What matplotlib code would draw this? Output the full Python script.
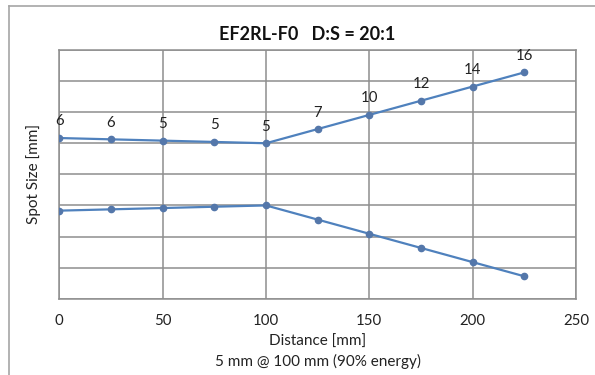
"""
Spot size vs distance for the EF2RL-F0 optics (D:S = 20:1).
"""

import matplotlib
matplotlib.use("Agg")
import matplotlib.pyplot as plt
from matplotlib.lines import Line2D

distance_mm = [0, 25, 50, 75, 100, 125, 150, 175, 200, 225]
spot_mm = [5.84, 5.63, 5.42, 5.21, 5.0, 7.28, 9.56, 11.84, 14.12, 16.4]
x_ticks = [0, 50, 100, 150, 200, 250]
y_ticks = [-10, -7.5, -5, -2.5, 0, 2.5, 5, 7.5, 10]

LINE_COLOR = "#4F81BD"
MARKER_COLOR = "#5477AA"
GRID_COLOR = "#8E8E8E"
TEXT_COLOR = "#222222"

plt.rcParams["font.family"] = ["Lato", "DejaVu Sans"]

fig = plt.figure(figsize=(5.95, 3.75), dpi=100)
ax = fig.add_axes([0.0997, 0.2035, 0.8684, 0.6632])

upper = [d / 2 for d in spot_mm]
lower = [-d / 2 for d in spot_mm]
for ys in (upper, lower):
    ax.plot(distance_mm, ys, color=LINE_COLOR, lw=1.6, marker="o", ms=4.5,
            mfc=MARKER_COLOR, mec=MARKER_COLOR, zorder=3)

# data labels above the upper curve
for x, y, d in zip(distance_mm, upper, spot_mm):
    ax.annotate(f"{d:.0f}", (x, y), xytext=(0, 11.9), textcoords="offset points",
                ha="center", va="center", fontsize=10.8, color=TEXT_COLOR,
                annotation_clip=False)

ax.set_xlim(0, 250)
ax.set_ylim(-10, 10)
ax.set_xticks(x_ticks)
ax.set_yticks(y_ticks)
ax.set_yticklabels([])
ax.tick_params(length=0, labelsize=10.8, labelcolor=TEXT_COLOR, pad=11)
ax.tick_params(axis="y", pad=0)
ax.grid(True, color=GRID_COLOR, lw=1.1)
ax.set_axisbelow(True)
for sp in ax.spines.values():
    sp.set_color(GRID_COLOR)
    sp.set_linewidth(1.1)

ax.set_ylabel("Spot Size [mm]", fontsize=11, color=TEXT_COLOR, labelpad=13)
fig.text(0.534, 1 - 341.5 / 375, "Distance [mm]", ha="center", va="center",
         fontsize=11, color=TEXT_COLOR)
fig.text(0.534, 1 - 361 / 375, "5 mm @ 100 mm (90% energy)", ha="center",
         va="center", fontsize=11, color=TEXT_COLOR)
fig.text(0.517, 1 - 35 / 375, "EF2RL-F0   D:S = 20:1", ha="center", va="center",
         fontsize=13, fontweight="bold", color="#111111")

# chart frame (top and left edges only visible in the crop)
fig.add_artist(Line2D([9.3 / 595, 9.3 / 595], [0, 1 - 5.7 / 375],
                      transform=fig.transFigure, color="#A6A6A6", lw=1.2))
fig.add_artist(Line2D([9.3 / 595, 1], [1 - 5.7 / 375, 1 - 5.7 / 375],
                      transform=fig.transFigure, color="#A6A6A6", lw=1.2))

fig.savefig("out.png", dpi=100)
plt.close(fig)
